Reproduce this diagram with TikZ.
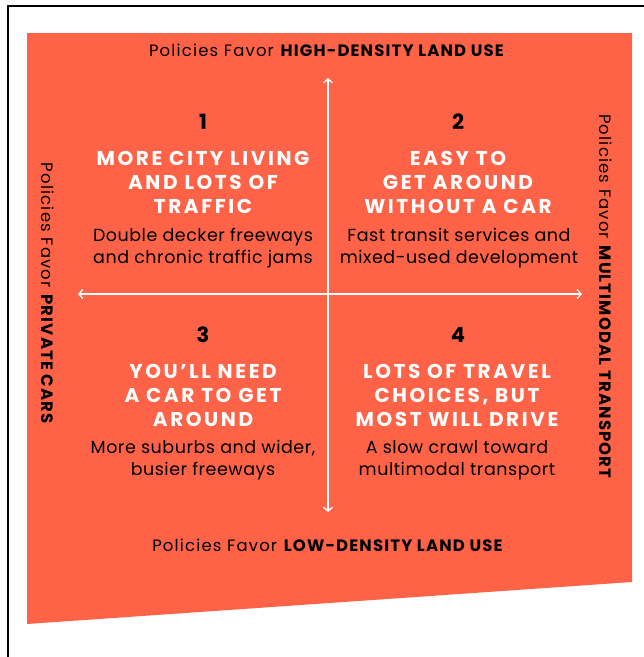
\documentclass[tikz,border=0pt]{standalone}
\usepackage{fontspec}
\setmainfont{Poppins}
\newfontfamily\headfont[LetterSpace=13]{Poppins}
\newfontfamily\labelfont[LetterSpace=7]{Poppins}
\newfontfamily\bodyfont[LetterSpace=3]{Poppins}
\usetikzlibrary{arrows.meta}
\definecolor{quadbg}{RGB}{254,99,72}
\begin{document}
\begin{tikzpicture}[x=1pt,y=-1pt,
  axis/.style={white, line width=1.3pt, {Straight Barb[length=4pt,width=9pt]}-{Straight Barb[length=4pt,width=9pt]}},
  axislabel/.style={black, font=\fontsize{16.5}{19}\labelfont, inner sep=0pt},
  qnum/.style={black, font=\fontsize{21}{24}\selectfont\bfseries, inner sep=0pt},
  qtitle/.style={white, align=center, font=\fontsize{20}{24}\headfont\bfseries, inner sep=0pt},
  qbody/.style={black, align=center, font=\fontsize{17.5}{22}\bodyfont, inner sep=0pt}]
\useasboundingbox (0,0) rectangle (644,657);
% page frame
\draw[line width=2.2pt] (8,657) -- (8,6) -- (644,6);
% tinted panel
\fill[quadbg] (27,33) -- (632,33) -- (632,582) -- (27,624) -- cycle;
% axes
\coordinate (ytop) at (328,78);
\coordinate (ybot) at (328,512);
\coordinate (xleft) at (78,294);
\coordinate (xright) at (582,294);
\draw[axis] (ybot) -- (ytop);
\draw[axis] (xleft) -- (xright);
% axis labels
\node[axislabel] (top) at (327,50) {Policies Favor \textbf{HIGH-DENSITY LAND USE}};
\node[axislabel] (bottom) at (328,545) {Policies Favor \textbf{LOW-DENSITY LAND USE}};
\node[axislabel, rotate=-90] (left) at (48,294) {Policies Favor \textbf{PRIVATE CARS}};
\node[axislabel, rotate=-90] (right) at (606,297) {Policies Favor \textbf{MULTIMODAL TRANSPORT}};
% quadrant 1
\node[qnum] (n1) at (203,122) {1};
\node[qtitle] (t1) at (203,182) {MORE CITY LIVING\\AND LOTS OF\\TRAFFIC};
\node[qbody] (b1) at (203,248) {Double decker freeways\\and chronic traffic jams};
% quadrant 2
\node[qnum] (n2) at (458,122) {2};
\node[qtitle] (t2) at (458,182) {EASY TO\\GET AROUND\\WITHOUT A CAR};
\node[qbody] (b2) at (459,248) {Fast transit services and\\mixed-used development};
% quadrant 3
\node[qnum] (n3) at (203,335) {3};
\node[qtitle] (t3) at (203,395) {YOU’LL NEED\\A CAR TO GET\\AROUND};
\node[qbody] (b3) at (203,460) {More suburbs and wider,\\busier freeways};
% quadrant 4
\node[qnum] (n4) at (458,335) {4};
\node[qtitle] (t4) at (457,395) {LOTS OF TRAVEL\\CHOICES, BUT\\MOST WILL DRIVE};
\node[qbody] (b4) at (457,460) {A slow crawl toward\\multimodal transport};
\end{tikzpicture}
\end{document}
